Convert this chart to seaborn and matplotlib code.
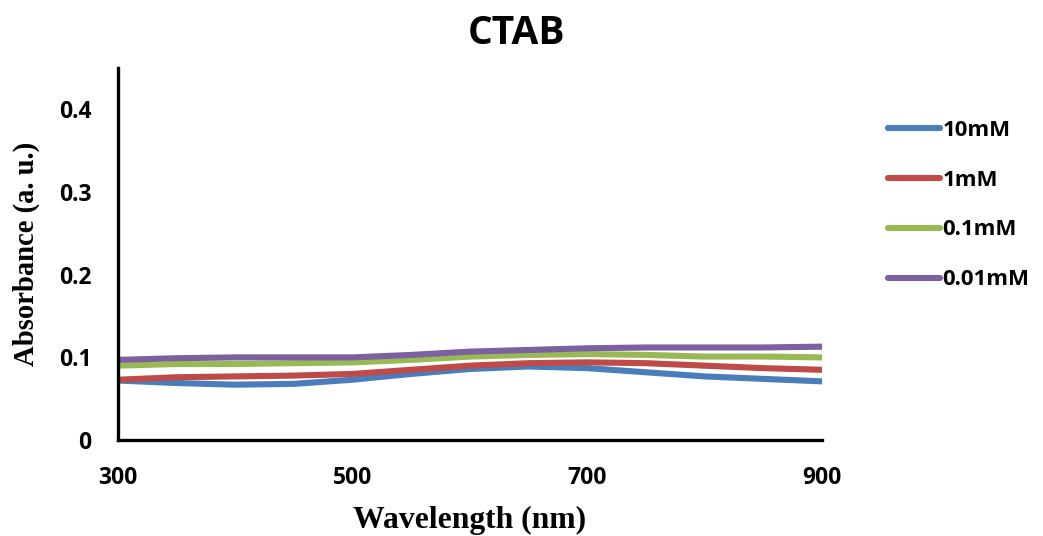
import numpy as np
import pandas as pd
import matplotlib
matplotlib.use("Agg")
import matplotlib.pyplot as plt
import seaborn as sns

# absorbance, every 50 nm
wavelength = [300, 350, 400, 450, 500, 550, 600, 650, 700, 750, 800, 850, 900]
abs_10mM = [0.072, 0.069, 0.067, 0.068, 0.073, 0.080, 0.086, 0.089, 0.087, 0.082, 0.077, 0.074, 0.071]
abs_1mM = [0.073, 0.076, 0.077, 0.078, 0.080, 0.085, 0.090, 0.093, 0.094, 0.093, 0.090, 0.087, 0.085]
abs_01mM = [0.090, 0.092, 0.092, 0.093, 0.094, 0.097, 0.101, 0.103, 0.104, 0.103, 0.101, 0.101, 0.100]
abs_001mM = [0.097, 0.099, 0.100, 0.100, 0.100, 0.103, 0.107, 0.109, 0.111, 0.112, 0.112, 0.112, 0.113]

series = ["10mM", "1mM", "0.1mM", "0.01mM"]
colors = ["#4a7ebb", "#be4b48", "#98b954", "#7d60a0"]

frames = []
for name, vals in zip(series, [abs_10mM, abs_1mM, abs_01mM, abs_001mM]):
    frames.append(pd.DataFrame({"Wavelength": wavelength, "Absorbance": vals, "Sample": name}))
df = pd.concat(frames, ignore_index=True)

sns.set_style("white")
plt.rcParams["font.family"] = ["Open Sans", "DejaVu Sans"]
plt.rcParams["text.color"] = "black"
plt.rcParams["xtick.color"] = "black"
plt.rcParams["ytick.color"] = "black"
plt.rcParams["axes.labelcolor"] = "black"

fig = plt.figure(figsize=(10.43, 5.36), dpi=100)
ax = fig.add_axes([0.1131, 0.179, 0.675, 0.694])

sns.lineplot(data=df, x="Wavelength", y="Absorbance", hue="Sample",
             hue_order=series, palette=colors, linewidth=4.4, ax=ax)

ax.set_xlim(300, 900)
ax.set_ylim(0, 0.45)
ax.set_xticks([300, 500, 700, 900])
ax.set_yticks([0, 0.1, 0.2, 0.3, 0.4])
ax.set_yticklabels(["0", "0.1", "0.2", "0.3", "0.4"])

for lab in ax.get_xticklabels() + ax.get_yticklabels():
    lab.set_fontweight("bold")
    lab.set_fontsize(16.5)
ax.tick_params(axis="both", direction="in", length=7, width=2.2, color="black")
ax.tick_params(axis="x", pad=19)
ax.tick_params(axis="y", pad=19)

for s in ["top", "right"]:
    ax.spines[s].set_visible(False)
for s in ["left", "bottom"]:
    ax.spines[s].set_linewidth(2.4)
    ax.spines[s].set_color("black")

fig.suptitle("CTAB", x=0.495, y=0.973, fontsize=28, fontweight="bold")
ax.set_xlabel("Wavelength (nm)", family="Liberation Serif", fontsize=22.8,
              fontweight="bold", labelpad=11)
ax.set_ylabel("Absorbance (a. u.)", family="Liberation Serif", fontsize=20.6,
              fontweight="bold")
ax.yaxis.set_label_coords(-0.111, 0.5)

ax.legend(loc="upper left", bbox_to_anchor=(1.065, 0.915), frameon=False,
          prop={"weight": "bold", "size": 16}, handlelength=2.35,
          handletextpad=0.12, labelspacing=1.3)

fig.savefig("out.png", dpi=100)
